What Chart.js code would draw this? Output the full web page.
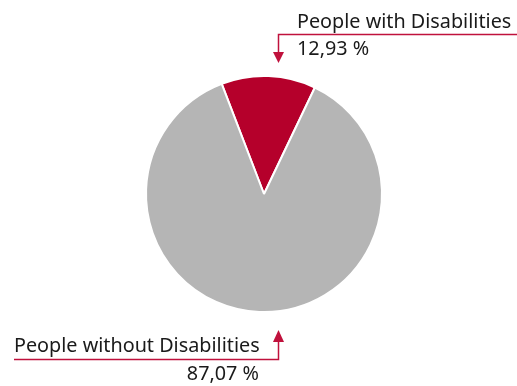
<!DOCTYPE html>
<html>
<head>
<meta charset="utf-8">
<script src="https://cdn.jsdelivr.net/npm/chart.js@4.4.0/dist/chart.umd.min.js"></script>
<style>
  html, body { margin: 0; padding: 0; background: #fff; }
  #wrap { width: 517px; height: 386px; }
</style>
</head>
<body>
<div id="wrap"><canvas id="pieChart" width="517" height="386"></canvas></div>
<script>
  const categorias = ['People with Disabilities', 'People without Disabilities'];
  const percentuais = [12.93, 87.07];
  const cores = ['#b5002b', '#b5b5b5'];

  const fmt = v => v.toFixed(2).replace('.', ',') + ' %';
  const familia = '"Noto Sans", "Open Sans", sans-serif';

  // callouts with arrow for each slice
  const callouts = {
    id: 'callouts',
    afterDraw(chart) {
      const ctx = chart.ctx;
      const red = '#c0113c';
      ctx.save();
      // size the label font so the long label spans ~246px
      ctx.font = '18px ' + familia;
      const w = ctx.measureText(categorias[1]).width;
      const size = Math.round(18 * 246 / w * 10) / 10;
      ctx.font = size + 'px ' + familia;
      ctx.fillStyle = '#1a1a1a';
      ctx.textBaseline = 'alphabetic';

      // top: people with disabilities
      ctx.textAlign = 'left';
      ctx.fillText(categorias[0], 297, 28);
      ctx.fillText(fmt(percentuais[0]), 297, 55);
      ctx.strokeStyle = red;
      ctx.lineWidth = 1.5;
      ctx.beginPath();
      ctx.moveTo(517, 34.5);
      ctx.lineTo(278.5, 34.5);
      ctx.lineTo(278.5, 54);
      ctx.stroke();
      ctx.fillStyle = red;
      ctx.beginPath();
      ctx.moveTo(273, 52);
      ctx.lineTo(284, 52);
      ctx.lineTo(278.5, 63);
      ctx.closePath();
      ctx.fill();

      // bottom: people without disabilities
      ctx.fillStyle = '#1a1a1a';
      ctx.textAlign = 'left';
      ctx.fillText(categorias[1], 14, 352);
      ctx.textAlign = 'right';
      ctx.fillText(fmt(percentuais[1]), 259, 380);
      ctx.strokeStyle = red;
      ctx.beginPath();
      ctx.moveTo(14, 359.5);
      ctx.lineTo(278.5, 359.5);
      ctx.lineTo(278.5, 340);
      ctx.stroke();
      ctx.fillStyle = red;
      ctx.beginPath();
      ctx.moveTo(273, 342);
      ctx.lineTo(284, 342);
      ctx.lineTo(278.5, 330);
      ctx.closePath();
      ctx.fill();
      ctx.restore();
    }
  };

  new Chart(document.getElementById('pieChart'), {
    type: 'pie',
    data: {
      labels: categorias,
      datasets: [{
        data: percentuais,
        backgroundColor: cores,
        borderColor: '#fff',
        borderWidth: 2
      }]
    },
    options: {
      responsive: false,
      animation: false,
      rotation: -21,
      layout: { padding: { left: 145, right: 134, top: 75, bottom: 73 } },
      plugins: {
        legend: { display: false },
        tooltip: { enabled: false }
      }
    },
    plugins: [callouts]
  });
</script>
</body>
</html>
